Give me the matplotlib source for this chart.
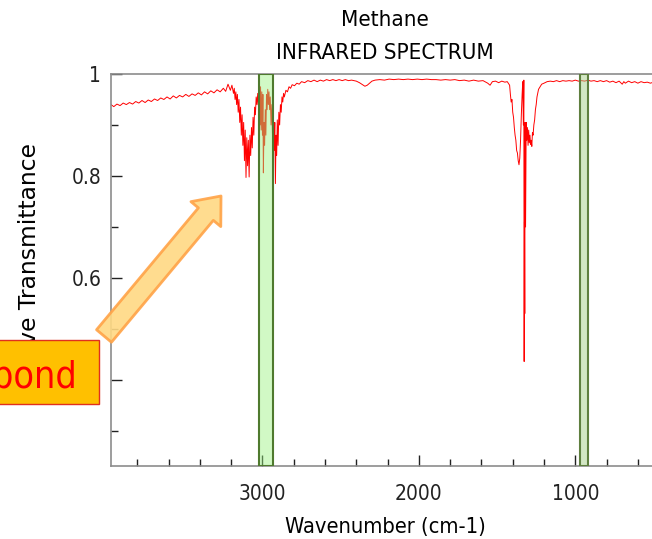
import matplotlib
matplotlib.use("Agg")
import matplotlib.pyplot as plt
from matplotlib.patches import Rectangle, FancyArrowPatch
from matplotlib.ticker import MultipleLocator, FuncFormatter
from matplotlib.transforms import Bbox, TransformedBbox

# spectrum (wavenumber in cm-1, relative transmittance)
wavenumber = [
    3968, 3950, 3930, 3910, 3890, 3870, 3850, 3830, 3810, 3790,
    3770, 3750, 3730, 3710, 3690, 3670, 3650, 3630, 3610, 3590,
    3570, 3550, 3530, 3510, 3490, 3470, 3450, 3430, 3410, 3390,
    3370, 3350, 3330, 3310, 3290, 3270, 3250, 3235, 3220, 3205,
    3195, 3185, 3180, 3175, 3170, 3165, 3160, 3155, 3150, 3145,
    3140, 3135, 3130, 3125, 3120, 3115, 3110, 3105, 3100, 3095,
    3090, 3085, 3080, 3075, 3070, 3065, 3060, 3055, 3050, 3045,
    3040, 3035, 3030, 3025, 3020, 3015, 3012, 3008, 3004, 3000,
    2997, 2994, 2990, 2986, 2982, 2978, 2974, 2970, 2966, 2962,
    2958, 2954, 2950, 2945, 2940, 2935, 2930, 2925, 2921, 2917,
    2913, 2909, 2905, 2900, 2895, 2890, 2885, 2880, 2875, 2870,
    2865, 2860, 2850, 2840, 2830, 2820, 2810, 2795, 2780, 2765,
    2750, 2730, 2710, 2690, 2670, 2650, 2630, 2610, 2590, 2570,
    2550, 2530, 2510, 2490, 2470, 2450, 2430, 2400, 2380, 2360,
    2345, 2330, 2315, 2300, 2280, 2250, 2220, 2190, 2160, 2130,
    2100, 2070, 2040, 2010, 1980, 1950, 1920, 1890, 1860, 1830,
    1800, 1770, 1740, 1710, 1680, 1650, 1620, 1590, 1560, 1545,
    1530, 1510, 1490, 1470, 1450, 1435, 1420, 1415, 1410, 1405,
    1400, 1395, 1390, 1385, 1380, 1375, 1370, 1365, 1360, 1355,
    1350, 1345, 1340, 1336, 1332, 1329, 1327, 1325, 1323, 1321,
    1318, 1314, 1310, 1306, 1302, 1298, 1294, 1290, 1286, 1282,
    1278, 1274, 1270, 1265, 1260, 1255, 1250, 1245, 1240, 1235,
    1225, 1215, 1200, 1180, 1160, 1140, 1120, 1100, 1080, 1060,
    1040, 1020, 1000, 980, 960, 940, 920, 900, 880, 860,
    840, 820, 800, 780, 760, 740, 720, 700, 690, 680,
    660, 640, 620, 600, 580, 560, 540, 520, 500, 480,
    460,
]
transmittance = [
    0.940, 0.936, 0.941, 0.938, 0.943, 0.940, 0.944, 0.941, 0.946, 0.943,
    0.948, 0.944, 0.949, 0.946, 0.951, 0.948, 0.953, 0.950, 0.955, 0.951,
    0.957, 0.953, 0.958, 0.955, 0.960, 0.956, 0.961, 0.958, 0.963, 0.959,
    0.965, 0.961, 0.967, 0.963, 0.969, 0.965, 0.972, 0.966, 0.980, 0.968,
    0.978, 0.962, 0.972, 0.950, 0.965, 0.940, 0.960, 0.925, 0.950, 0.905,
    0.935, 0.880, 0.920, 0.860, 0.905, 0.830, 0.890, 0.797, 0.875, 0.820,
    0.870, 0.798, 0.880, 0.840, 0.895, 0.855, 0.915, 0.880, 0.935, 0.920,
    0.955, 0.940, 0.962, 0.935, 0.950, 0.900, 0.975, 0.890, 0.965, 0.880,
    0.960, 0.806, 0.905, 0.860, 0.930, 0.880, 0.960, 0.930, 0.970, 0.940,
    0.965, 0.930, 0.955, 0.900, 0.940, 0.870, 0.920, 0.850, 0.905, 0.785,
    0.880, 0.840, 0.910, 0.860, 0.925, 0.900, 0.940, 0.925, 0.955, 0.945,
    0.962, 0.955, 0.968, 0.965, 0.975, 0.972, 0.979, 0.977, 0.982, 0.980,
    0.985, 0.983, 0.987, 0.985, 0.988, 0.985, 0.988, 0.986, 0.989, 0.987,
    0.989, 0.987, 0.989, 0.987, 0.989, 0.987, 0.988, 0.986, 0.983, 0.979,
    0.976, 0.978, 0.982, 0.986, 0.988, 0.989, 0.988, 0.990, 0.989, 0.990,
    0.989, 0.990, 0.989, 0.990, 0.989, 0.990, 0.989, 0.989, 0.988, 0.989,
    0.988, 0.989, 0.987, 0.988, 0.986, 0.988, 0.986, 0.987, 0.982, 0.978,
    0.985, 0.986, 0.983, 0.986, 0.984, 0.985, 0.978, 0.960, 0.945, 0.950,
    0.925, 0.915, 0.895, 0.880, 0.870, 0.850, 0.845, 0.830, 0.822, 0.835,
    0.870, 0.920, 0.960, 0.985, 0.900, 0.988, 0.436, 0.710, 0.530, 0.905,
    0.700, 0.905, 0.870, 0.895, 0.860, 0.890, 0.865, 0.880, 0.862, 0.870,
    0.858, 0.885, 0.880, 0.900, 0.910, 0.930, 0.940, 0.955, 0.962, 0.970,
    0.975, 0.980, 0.982, 0.985, 0.986, 0.985, 0.987, 0.985, 0.987, 0.986,
    0.987, 0.986, 0.988, 0.986, 0.987, 0.986, 0.988, 0.986, 0.987, 0.985,
    0.987, 0.985, 0.987, 0.984, 0.986, 0.983, 0.986, 0.980, 0.985, 0.982,
    0.986, 0.983, 0.985, 0.982, 0.985, 0.983, 0.984, 0.982, 0.984, 0.983,
    0.984,
]

# highlighted bands (cm-1)
band_starts = [3022, 970]
band_ends = [2933, 920]
band_faces = [(0.6, 0.95, 0.5, 0.45), (0.66, 0.82, 0.54, 0.5)]
band_edges = ["#4f7a2e", "#5f7f3f"]

x_range = [3968, 465]
y_range = [0.231, 1.0]

FONT = dict(family="DejaVu Sans", stretch="condensed")

fig = plt.figure(figsize=(6.52, 5.39), dpi=100)
ax = fig.add_axes([111 / 652, 73 / 539, 548 / 652, 392 / 539])

ax.plot(wavenumber, transmittance, color="red", lw=0.7, zorder=2)

for x0, x1, fc, ec in zip(band_starts, band_ends, band_faces, band_edges):
    ax.axvspan(x0, x1, facecolor=fc, edgecolor=ec, lw=1.5, zorder=3)

ax.set_xlim(*x_range)
ax.set_ylim(*y_range)

ax.xaxis.set_major_locator(MultipleLocator(1000))
ax.xaxis.set_minor_locator(MultipleLocator(200))
ax.yaxis.set_major_locator(MultipleLocator(0.2))
ax.yaxis.set_minor_locator(MultipleLocator(0.1))
ax.yaxis.set_major_formatter(FuncFormatter(lambda v, p: "%g" % round(v, 2)))

ax.tick_params(which="both", direction="in", colors="#222222", width=1)
ax.tick_params(which="major", length=8)
ax.tick_params(which="minor", length=5)
ax.tick_params(axis="x", pad=13)
ax.tick_params(axis="y", pad=7)
for lab in ax.get_xticklabels() + ax.get_yticklabels():
    lab.set_fontsize(15)
    lab.set_fontstretch("condensed")
for sp in ax.spines.values():
    sp.set_color("#8c8c8c")
    sp.set_linewidth(1.2)

ax.set_xlabel("Wavenumber (cm-1)", fontsize=15.7, labelpad=9, **FONT)
ylab = ax.set_ylabel("Relative Transmittance", fontsize=16.8, family="DejaVu Sans")
ax.yaxis.set_label_coords(-0.128, 0.482)
# the start of the label sits behind the "bond" box
ylab.set_clip_box(TransformedBbox(Bbox([[0, 1 - 404 / 539], [1, 1]]), fig.transFigure))
ylab.set_clip_on(True)

cx = (111 + 548 / 2) / 652
fig.text(cx, 1 - 20 / 539, "Methane", ha="center", va="center", fontsize=16, **FONT)
fig.text(cx, 1 - 53 / 539, "INFRARED SPECTRUM", ha="center", va="center",
         fontsize=16, **FONT)

# label box and arrow pointing at the C-H band
box = Rectangle((-10 / 652, 1 - 404 / 539), 109 / 652, 64 / 539,
                transform=fig.transFigure, facecolor="#FFC000",
                edgecolor="#E0301E", lw=1, zorder=5)
fig.add_artist(box)
fig.text(77 / 652, 1 - 387 / 539, "bond", ha="right", va="baseline",
         color="red", fontsize=27, zorder=6, **FONT)

arrow = FancyArrowPatch((104 / 652, 1 - 336 / 539), (221 / 652, 1 - 196 / 539),
                        transform=fig.transFigure,
                        arrowstyle="simple,head_length=17,head_width=28,tail_width=14",
                        mutation_scale=1, shrinkA=0, shrinkB=0,
                        facecolor="#FFD983", edgecolor="#FFA347", lw=2,
                        alpha=0.9, zorder=5)
fig.add_artist(arrow)

fig.savefig("out.png", dpi=100)
